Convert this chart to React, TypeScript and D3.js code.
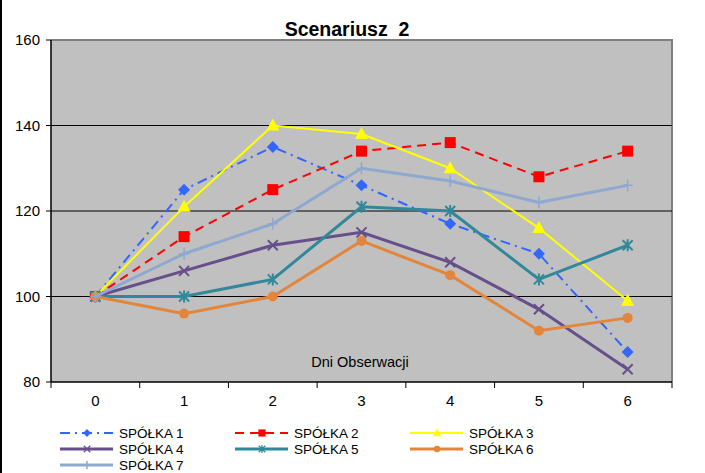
import React from "react";
import * as d3 from "d3";

const days = [0, 1, 2, 3, 4, 5, 6];
const yTicks = [80, 100, 120, 140, 160];
const gridValues = [100, 120, 140];
const seriesNames = ["SPÓŁKA 1", "SPÓŁKA 2", "SPÓŁKA 3", "SPÓŁKA 4", "SPÓŁKA 5", "SPÓŁKA 6", "SPÓŁKA 7"];
const s1 = [100, 125, 135, 126, 117, 110, 87];
const s2 = [100, 114, 125, 134, 136, 128, 134];
const s3 = [100, 121, 140, 138, 130, 116, 99];
const s4 = [100, 106, 112, 115, 108, 97, 83];
const s5 = [100, 100, 104, 121, 120, 104, 112];
const s6 = [100, 96, 100, 113, 105, 92, 95];
const s7 = [100, 110, 117, 130, 127, 122, 126];
const title = "Scenariusz  2";
const xTitle = "Dni Obserwacji";

const seriesValues = [s1, s2, s3, s4, s5, s6, s7];
const styles = [
  { color: "#3366FF", width: 2, dash: "10,5,2,5", marker: "diamond" },
  { color: "#FF0000", width: 2, dash: "9,6", marker: "square" },
  { color: "#FFFF00", width: 2, dash: "", marker: "triangle" },
  { color: "#664F8A", width: 3, dash: "", marker: "x" },
  { color: "#31889A", width: 3, dash: "", marker: "star" },
  { color: "#E3863C", width: 3, dash: "", marker: "circle" },
  { color: "#8FA8CF", width: 3, dash: "", marker: "plus" },
];

const W = 705, H = 473;
const left = 51, right = 672, top = 40, bottom = 382;

function Marker({ type, x, y, color, s = 1 }: { type: string; x: number; y: number; color: string; s?: number }) {
  switch (type) {
    case "diamond":
      return <path d={`M${x},${y - 6 * s}L${x + 6 * s},${y}L${x},${y + 6 * s}L${x - 6 * s},${y}Z`} fill={color} />;
    case "square":
      return <rect x={x - 5.5 * s} y={y - 5.5 * s} width={11 * s} height={11 * s} fill={color} />;
    case "triangle":
      return <path d={`M${x},${y - 7 * s}L${x + 6.5 * s},${y + 5 * s}L${x - 6.5 * s},${y + 5 * s}Z`} fill={color} />;
    case "circle":
      return <circle cx={x} cy={y} r={5 * s} fill={color} />;
    case "x":
      return (
        <path
          d={`M${x - 5 * s},${y - 5 * s}L${x + 5 * s},${y + 5 * s}M${x - 5 * s},${y + 5 * s}L${x + 5 * s},${y - 5 * s}`}
          stroke={color}
          strokeWidth={2 * s}
        />
      );
    case "star":
      return (
        <path
          d={`M${x - 5 * s},${y - 5 * s}L${x + 5 * s},${y + 5 * s}M${x - 5 * s},${y + 5 * s}L${x + 5 * s},${y - 5 * s}M${x},${y - 6 * s}L${x},${y + 6 * s}`}
          stroke={color}
          strokeWidth={2 * s}
        />
      );
    case "plus":
      return (
        <path d={`M${x - 5 * s},${y}L${x + 5 * s},${y}M${x},${y - 6 * s}L${x},${y + 6 * s}`} stroke={color} strokeWidth={1.5} />
      );
    default:
      return null;
  }
}

export default function App() {
  const x = d3.scaleBand<number>().domain(days).range([left, right]).padding(0);
  const y = d3.scaleLinear().domain([80, 160]).range([bottom, top]);
  const cx = (d: number) => (x(d) as number) + x.bandwidth() / 2;
  const line = d3
    .line<number>()
    .x((_, i) => cx(days[i]))
    .y((v) => y(v));

  const boundaries = days.map((d) => x(d) as number).concat([right]);

  const legendCols = [60, 235, 410];
  const legendRows = [433, 449, 465];

  return (
    <svg width={W} height={H} style={{ position: "absolute", left: 0, top: 0, background: "#fff" }} fontFamily="Arial, 'Liberation Sans', sans-serif">
      <rect x={0} y={0} width={W} height={H} fill="#fff" />
      <line x1={1} y1={0} x2={1} y2={H} stroke="#000" strokeWidth={2} />
      <text x={347} y={36} textAnchor="middle" fontSize={19.5} fontWeight="bold" fill="#000" style={{ whiteSpace: "pre" }}>
        {title}
      </text>
      <rect x={left} y={top} width={right - left} height={bottom - top} fill="#C0C0C0" />
      <path d={`M${left},${top}H${right}V${bottom}`} fill="none" stroke="#808080" strokeWidth={2} />
      {gridValues.map((g) => (
        <line key={g} x1={left} x2={right} y1={y(g)} y2={y(g)} stroke="#000" strokeWidth={1} />
      ))}
      <line x1={left} x2={left} y1={top} y2={bottom} stroke="#000" strokeWidth={1.5} />
      <line x1={left} x2={right} y1={bottom} y2={bottom} stroke="#000" strokeWidth={1.5} />
      {yTicks.map((t) => (
        <g key={t}>
          <line x1={left - 5} x2={left} y1={y(t)} y2={y(t)} stroke="#000" />
          <text x={40} y={y(t) + 5} textAnchor="end" fontSize={15} fill="#000">
            {t}
          </text>
        </g>
      ))}
      {boundaries.map((b, i) => (
        <line key={i} x1={b} x2={b} y1={bottom} y2={bottom + 6} stroke="#000" />
      ))}
      {days.map((d) => (
        <text key={d} x={cx(d)} y={406} textAnchor="middle" fontSize={15} fill="#000">
          {d}
        </text>
      ))}
      <text x={360} y={367} textAnchor="middle" fontSize={14.5} fill="#000">
        {xTitle}
      </text>
      {seriesValues.map((vals, si) => {
        const st = styles[si];
        return (
          <g key={si}>
            <path d={line(vals) as string} fill="none" stroke={st.color} strokeWidth={st.width} strokeDasharray={st.dash || undefined} />
            {vals.map((v, i) => (
              <Marker key={i} type={st.marker} x={cx(days[i])} y={y(v)} color={st.color} />
            ))}
          </g>
        );
      })}
      {seriesNames.map((name, i) => {
        const st = styles[i];
        const lx = legendCols[i % 3];
        const ly = legendRows[Math.floor(i / 3)];
        return (
          <g key={name}>
            <line x1={lx} x2={lx + 53} y1={ly} y2={ly} stroke={st.color} strokeWidth={st.width} strokeDasharray={st.dash || undefined} />
            <Marker type={st.marker} x={lx + 27} y={ly} color={st.color} s={0.65} />
            <text x={lx + 59} y={ly + 5} fontSize={13.5} fill="#000">
              {name}
            </text>
          </g>
        );
      })}
    </svg>
  );
}
